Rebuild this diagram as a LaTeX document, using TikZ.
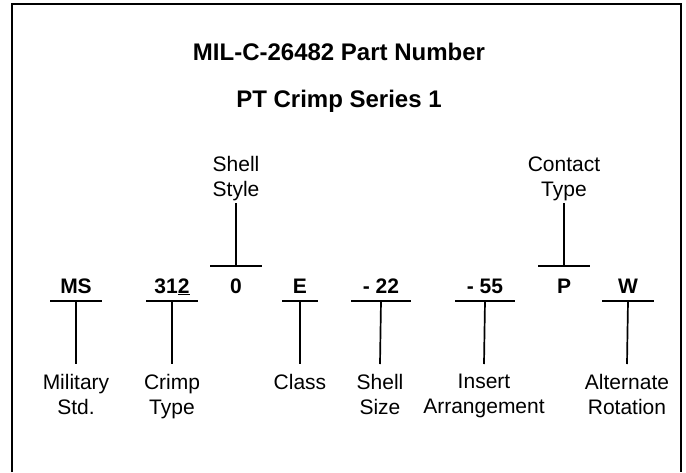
\documentclass[tikz,border=0pt]{standalone}
\usepackage{fontspec}
\setmainfont{Liberation Sans}

\begin{document}
\begin{tikzpicture}[x=1pt,y=-1pt,line width=1.7pt,
  every node/.style={inner sep=0pt,font=\fontsize{21}{25}\selectfont},
  partcode/.style={anchor=base,font=\fontsize{21}{25}\selectfont\bfseries,text height=26pt,text depth=7pt,minimum width=50pt},
  lowlabel/.style={anchor=north,align=center,outer ysep=10pt},
  highlabel/.style={anchor=south,align=center,outer ysep=2pt}]
\useasboundingbox (0,0) rectangle (686,472);
\draw[line width=2pt] (12,472)--(12,4)--(681,4)--(681,472);
\node[anchor=base,font=\fontsize{24}{28}\selectfont\bfseries] (title) at (339,60) {MIL-C-26482 Part Number};
\node[anchor=base,font=\fontsize{24}{28}\selectfont\bfseries] (subtitle) at (339,107) {PT Crimp Series 1};
\node[partcode] (ms) at (76,293) {MS};\node[partcode] (crimp) at (172,293) {31\underline{2}};
\node[partcode] (style) at (236,293) {0};\node[partcode,minimum width=34pt] (class) at (300,293) {E};
\node[partcode,minimum width=58pt] (size) at (381,293) {- 22};\node[partcode,minimum width=58pt] (insert) at (485,293) {- 55};
\node[partcode] (contact) at (564,293) {P};\node[partcode] (rotation) at (628,293) {W};
\node[highlabel] (shellstyle) at (236,203) {Shell\\Style};\node[highlabel] (contacttype) at (564,203) {Contact\\Type};
\node[lowlabel] (military) at (76,364) {Military\\Std.};\node[lowlabel] (crimptype) at (172,364) {Crimp\\Type};
\node[lowlabel] (classname) at (300,364) {Class};\node[lowlabel] (shellsize) at (380,364) {Shell\\Size};
\node[lowlabel] (arrangement) at (484,364) {Insert\\Arrangement};\node[lowlabel] (altrotation) at (627,364) {Alternate\\Rotation};
\draw (ms.south west)--(ms.south east);\draw (ms.south)--(military.north);
\draw (crimp.south west)--(crimp.south east);\draw (crimp.south)--(crimptype.north);
\draw (style.north west)--(style.north east);\draw (style.north)--(shellstyle.south);
\draw (class.south west)--(class.south east);\draw (class.south)--(classname.north);
\draw (size.south west)--(size.south east);\draw (size.south)--(shellsize.north);
\draw (insert.south west)--(insert.south east);\draw (insert.south)--(arrangement.north);
\draw (contact.north west)--(contact.north east);\draw (contact.north)--(contacttype.south);
\draw (rotation.south west)--(rotation.south east);\draw (rotation.south)--(altrotation.north);
\end{tikzpicture}
\end{document}
